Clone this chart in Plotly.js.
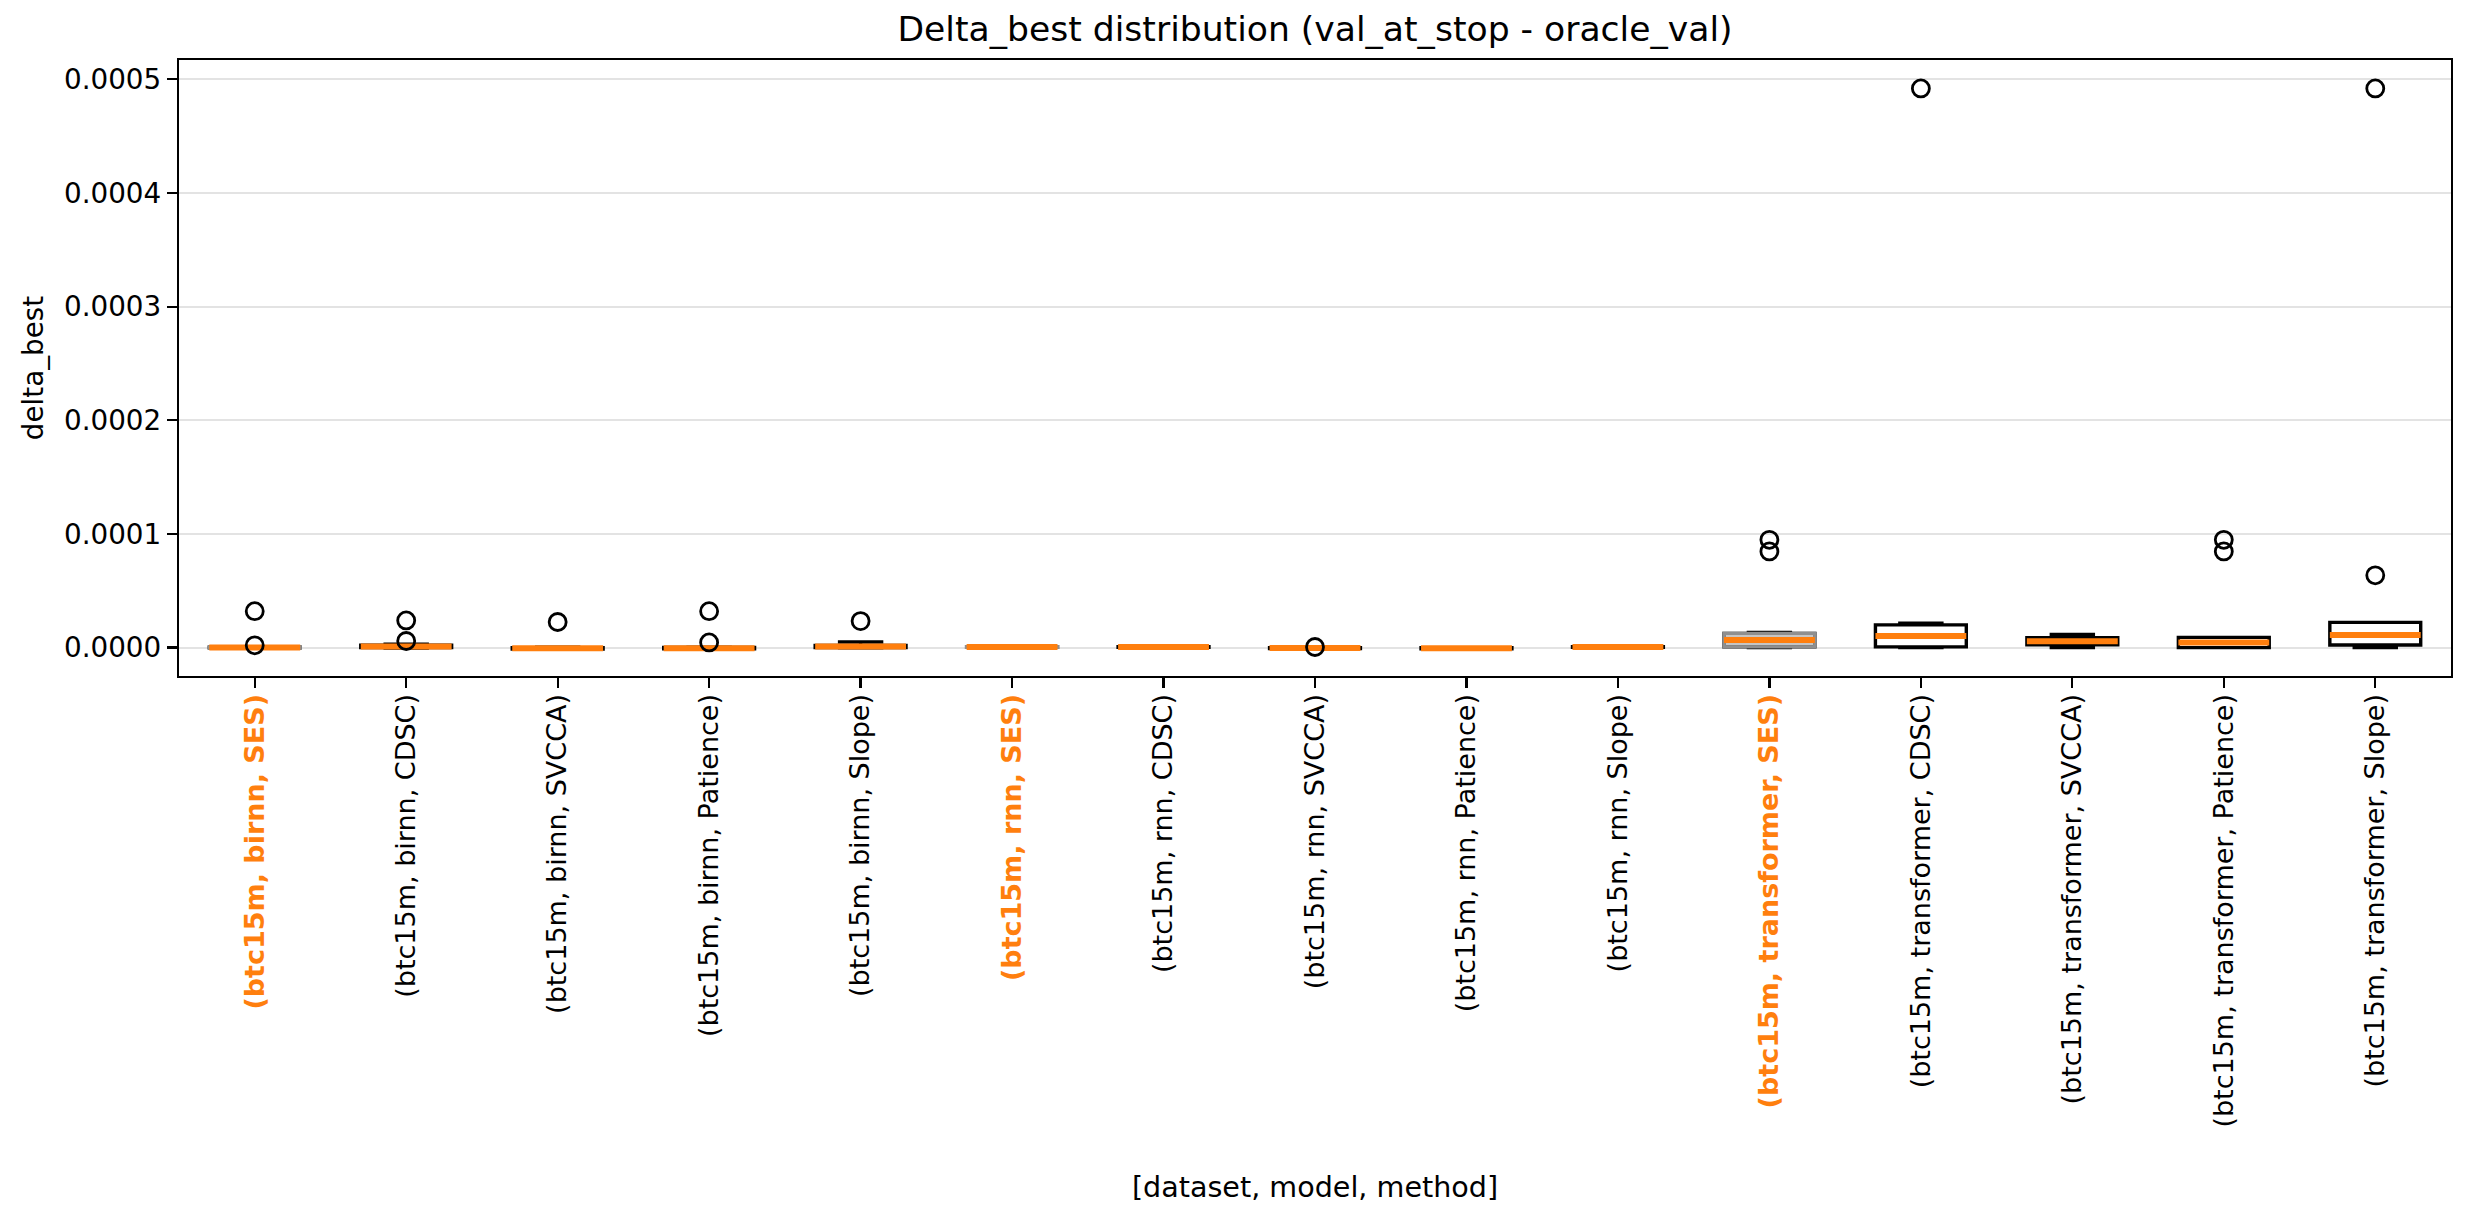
<!DOCTYPE html>
<html><head><meta charset="utf-8">
<script src="https://cdn.plot.ly/plotly-3.0.1.min.js"></script>
<style>html,body{margin:0;padding:0;background:#fff}</style>
</head><body>
<div id="chart" style="width:2468px;height:1215px"></div>
<script>
// ---- data ----
const categories = [
  "(btc15m, birnn, SES)", "(btc15m, birnn, CDSC)", "(btc15m, birnn, SVCCA)", "(btc15m, birnn, Patience)", "(btc15m, birnn, Slope)",
  "(btc15m, rnn, SES)", "(btc15m, rnn, CDSC)", "(btc15m, rnn, SVCCA)", "(btc15m, rnn, Patience)", "(btc15m, rnn, Slope)",
  "(btc15m, transformer, SES)", "(btc15m, transformer, CDSC)", "(btc15m, transformer, SVCCA)", "(btc15m, transformer, Patience)", "(btc15m, transformer, Slope)"
];
const highlighted = [true, false, false, false, false, true, false, false, false, false, true, false, false, false, false];
const lowerWhisker = [-0.0000006, -0.0000004, -0.0000015, -0.0000014, -0.0000002, 0.0000000, 0.0000000, -0.0000012, -0.0000012, 0.0000000, 0.0000000, 0.0000000, 0.0000000, 0.0000000, 0.0000000];
const q1           = [-0.0000002,  0.0000000, -0.0000012, -0.0000010,  0.0000000, 0.0000002, 0.0000002, -0.0000008, -0.0000010, 0.0000002, 0.0000006, 0.0000006, 0.0000024, 0.0000000, 0.0000023];
const median       = [ 0.0000000,  0.0000010, -0.0000006, -0.0000005,  0.0000009, 0.0000005, 0.0000005, -0.0000004, -0.0000006, 0.0000005, 0.0000067, 0.0000103, 0.0000056, 0.0000044, 0.0000111];
const q3           = [ 0.0000004,  0.0000022,  0.0000000,  0.0000001,  0.0000018, 0.0000008, 0.0000008, -0.0000001, -0.0000001, 0.0000008, 0.0000125, 0.0000200, 0.0000088, 0.0000090, 0.0000222];
const upperWhisker = [ 0.0000008,  0.0000030,  0.0000003,  0.0000004,  0.0000050, 0.0000010, 0.0000010,  0.0000001,  0.0000000, 0.0000010, 0.0000134, 0.0000215, 0.0000115, 0.0000090, 0.0000222];
const outliers = [
  [0.0000320, 0.0000020], [0.0000239, 0.0000058], [0.0000225], [0.0000320, 0.0000045], [0.0000233],
  [], [], [0.0000005], [], [],
  [0.0000948, 0.0000846], [0.000492], [], [0.0000948, 0.0000846], [0.000492, 0.0000636]
];
const yTicks = [0, 0.0001, 0.0002, 0.0003, 0.0004, 0.0005];

// ---- styles ----
const FONT = "DejaVu Sans, Verdana, sans-serif";
const ORANGE = "#ff7f0e";
const BOX_W = 0.6;

const pos = categories.map((_, i) => i + 1);
const sel = (arr, flag) => arr.filter((_, i) => highlighted[i] === flag);

const traces = [];
// all boxes in black (gives black whiskers and caps for every group)
traces.push({
  type: "box", x: pos, q1: q1, median: median, q3: q3,
  lowerfence: lowerWhisker, upperfence: upperWhisker,
  width: BOX_W, whiskerwidth: 0.5, boxpoints: false,
  line: {color: "#000000", width: 3.4}, fillcolor: "rgba(0,0,0,0)",
  hoverinfo: "skip", showlegend: false
});
// highlighted (SES) boxes: grey body drawn over
const sPos = sel(pos, true), sQ1 = sel(q1, true), sQ3 = sel(q3, true), sMed = sel(median, true);
traces.push({
  type: "box", x: sPos, q1: sQ1, median: sMed, q3: sQ3,
  lowerfence: sQ1, upperfence: sQ3,
  width: BOX_W, whiskerwidth: 0, boxpoints: false,
  line: {color: "#8f8f8f", width: 3.4}, fillcolor: "rgba(150,150,150,0.55)",
  hoverinfo: "skip", showlegend: false
});
// median lines
const mx = [], my = [];
pos.forEach((p, i) => { mx.push(p - BOX_W / 2, p + BOX_W / 2, null); my.push(median[i], median[i], null); });
traces.push({
  type: "scatter", mode: "lines", x: mx, y: my,
  line: {color: ORANGE, width: 6}, hoverinfo: "skip", showlegend: false
});
// outliers
const ox = [], oy = [];
outliers.forEach((arr, i) => arr.forEach(v => { ox.push(pos[i]); oy.push(v); }));
traces.push({
  type: "scatter", mode: "markers", x: ox, y: oy,
  marker: {symbol: "circle-open", size: 17, color: "#000000", line: {width: 2.8, color: "#000000"}},
  hoverinfo: "skip", showlegend: false
});

const tickText = categories.map((c, i) =>
  highlighted[i] ? '<b><span style="color:' + ORANGE + '">' + c + '</span></b>' : c);

const layout = {
  width: 2468, height: 1215,
  margin: {l: 179, r: 17, t: 60, b: 539, pad: 0},
  paper_bgcolor: "#ffffff", plot_bgcolor: "#ffffff",
  font: {family: FONT, size: 27.8, color: "#000000"},
  showlegend: false,
  boxmode: "overlay",
  title: {
    text: "Delta_best distribution (val_at_stop - oracle_val)",
    font: {family: FONT, size: 34.6, color: "#000000"},
    x: 0.5, xanchor: "center", xref: "paper",
    y: 1 - 29 / 1215, yanchor: "middle", yref: "container"
  },
  xaxis: {
    range: [0.5, 15.5], tickmode: "array", tickvals: pos, ticktext: tickText,
    tickangle: -90, ticks: "outside", ticklen: 10, tickwidth: 2.2, tickcolor: "#000",
    ticklabelstandoff: -5,
    showline: true, mirror: true, linecolor: "#000", linewidth: 2.2,
    showgrid: false, zeroline: false,
    tickfont: {family: FONT, size: 27, color: "#000"},
    title: {text: "[dataset, model, method]", font: {family: FONT, size: 28.6, color: "#000"}, standoff: 50}
  },
  yaxis: {
    range: [-0.000025, 0.000517], tickmode: "array", tickvals: yTicks,
    ticktext: yTicks.map(v => v.toFixed(4)),
    ticks: "outside", ticklen: 10, tickwidth: 2.2, tickcolor: "#000",
    showline: true, mirror: true, linecolor: "#000", linewidth: 2.2,
    showgrid: true, gridcolor: "#e3e3e3", gridwidth: 2, zeroline: false,
    tickfont: {family: FONT, size: 27.8, color: "#000"},
    title: {text: "delta_best", font: {family: FONT, size: 27.8, color: "#000"}, standoff: 12}
  }
};

Plotly.newPlot("chart", traces, layout, {staticPlot: true, displayModeBar: false});
</script>
</body></html>
